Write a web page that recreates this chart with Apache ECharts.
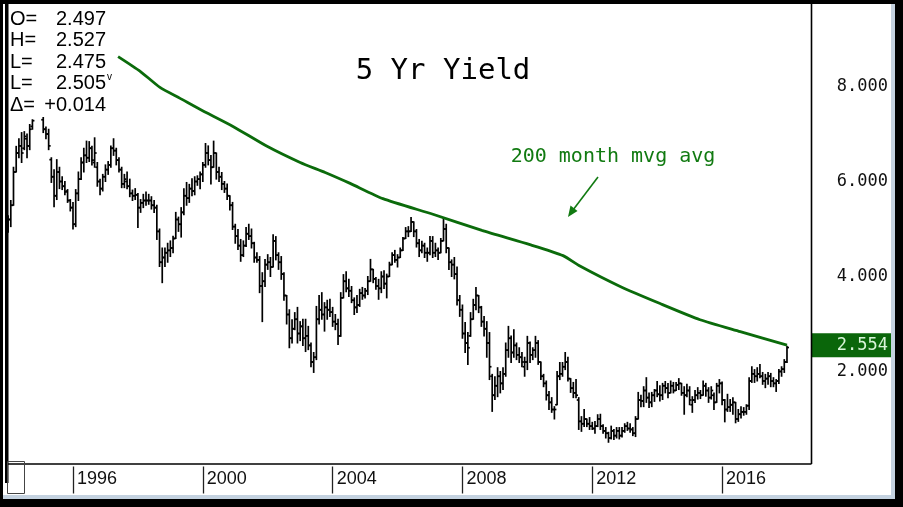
<!DOCTYPE html>
<html><head><meta charset="utf-8">
<script src="https://cdn.jsdelivr.net/npm/echarts@6/dist/echarts.min.js"></script>
<style>html,body{margin:0;padding:0;background:#fff}#c{width:903px;height:507px}</style>
</head><body><div id="c"></div>
<script>
// Monthly bars, Jan 1994 .. Jan 2018
const startYear = 1994;
const openV = [
5.05,5.20,5.50,6.20,6.60,6.75,6.70,6.90,6.75,7.16,7.45,7.70,
7.80,7.30,7.10,7.00,6.46,6.10,5.70,6.20,6.00,5.90,5.80,5.60,
5.45,5.10,5.75,6.05,6.40,6.55,6.50,6.70,6.40,6.30,6.00,5.85,
6.10,6.25,6.35,6.70,6.65,6.45,6.25,5.95,6.00,5.90,5.75,5.70,
5.72,5.45,5.55,5.60,5.60,5.60,5.50,5.45,4.95,4.30,4.40,4.50,
4.55,4.60,4.80,5.20,5.10,5.35,5.70,5.65,5.85,5.80,6.00,6.05,
6.15,6.35,6.60,6.45,6.30,6.60,6.20,6.10,5.95,5.85,5.70,5.50,
5.05,4.85,4.65,4.45,4.65,4.90,4.85,4.70,4.40,4.35,3.80,3.90,
4.25,4.30,4.20,4.75,4.45,4.30,4.05,3.60,3.20,2.70,2.90,3.10,
2.80,2.95,2.70,2.75,2.55,2.20,2.30,3.10,3.30,3.20,3.35,3.30,
3.25,3.05,3.00,2.75,3.55,3.90,3.75,3.70,3.50,3.35,3.40,3.65,
3.60,3.70,3.90,4.15,3.95,3.80,3.75,4.00,3.85,4.00,4.25,4.45,
4.35,4.40,4.55,4.80,4.95,4.95,5.15,4.95,4.70,4.55,4.65,4.50,
4.50,4.75,4.50,4.55,4.50,4.75,5.00,4.60,4.30,4.25,4.05,3.50,
3.30,2.80,2.60,2.75,3.10,3.40,3.60,3.35,3.05,2.90,2.60,1.90,
1.50,1.70,1.90,1.75,1.95,2.45,2.70,2.40,2.55,2.35,2.30,2.10,
2.20,2.60,2.35,2.45,2.60,2.20,1.90,1.75,1.50,1.35,1.20,1.30,
1.90,1.95,2.10,2.20,1.85,1.65,1.55,1.40,0.95,0.90,1.00,0.90,
0.85,0.80,0.85,1.00,0.85,0.75,0.70,0.60,0.75,0.65,0.75,0.65,
0.75,0.85,0.80,0.78,0.70,1.00,1.40,1.38,1.60,1.45,1.35,1.50,
1.60,1.52,1.50,1.70,1.65,1.55,1.70,1.60,1.72,1.75,1.55,1.50,
1.60,1.30,1.40,1.50,1.55,1.50,1.70,1.60,1.45,1.50,1.35,1.70,
1.75,1.40,1.20,1.25,1.30,1.35,1.00,1.10,1.15,1.15,1.28,1.80,
1.95,1.90,1.95,1.90,1.80,1.85,1.90,1.80,1.75,1.80,2.00,2.05,
2.20];
const highV = [
5.28,5.60,6.30,6.74,6.90,7.03,7.05,7.00,7.20,7.30,7.80,7.90,
7.90,7.35,7.15,7.10,6.50,6.25,6.46,6.30,6.10,6.00,5.83,5.62,
5.56,5.83,6.20,6.50,6.70,6.85,6.84,6.74,6.92,6.40,6.05,6.15,
6.35,6.42,6.75,6.90,6.70,6.50,6.30,6.15,6.20,6.05,5.82,5.85,
5.75,5.62,5.73,5.78,5.73,5.68,5.60,5.50,5.00,4.60,4.60,4.70,
4.75,4.85,5.35,5.25,5.45,5.85,5.98,5.94,6.06,6.10,6.12,6.20,
6.40,6.80,6.75,6.55,6.85,6.60,6.30,6.19,6.00,5.95,5.70,5.56,
5.10,4.99,4.78,4.75,5.03,5.10,5.00,4.72,4.50,4.42,4.08,4.36,
4.46,4.40,4.88,4.84,4.50,4.42,4.08,3.60,3.30,3.09,3.24,3.35,
3.05,3.10,3.10,2.95,2.60,2.40,3.37,3.60,3.66,3.45,3.50,3.52,
3.35,3.20,3.10,3.66,4.04,4.10,3.94,3.79,3.55,3.60,3.73,3.77,
3.75,4.00,4.36,4.15,3.98,3.94,4.10,4.12,4.05,4.30,4.50,4.55,
4.46,4.60,4.82,5.03,5.05,5.24,5.15,4.99,4.78,4.74,4.70,4.60,
4.84,4.84,4.70,4.60,4.80,5.24,5.10,4.60,4.35,4.40,4.20,3.60,
3.40,3.03,2.82,3.24,3.52,3.77,3.60,3.37,3.16,3.05,2.82,1.94,
1.89,2.08,2.00,2.08,2.60,2.95,2.75,2.88,2.60,2.50,2.40,2.30,
2.74,2.62,2.50,2.74,2.65,2.20,1.94,1.80,1.58,1.45,1.26,2.00,
2.19,2.19,2.40,2.30,1.85,1.77,1.83,1.45,1.05,1.20,1.00,1.03,
0.93,0.95,1.09,1.10,0.88,0.82,0.72,0.85,0.78,0.82,0.82,0.82,
0.90,0.93,0.90,0.82,1.05,1.56,1.50,1.68,1.87,1.55,1.56,1.62,
1.79,1.70,1.75,1.79,1.75,1.80,1.77,1.77,1.85,1.75,1.68,1.73,
1.68,1.47,1.60,1.66,1.60,1.80,1.75,1.66,1.68,1.55,1.75,1.83,
1.78,1.41,1.52,1.41,1.45,1.35,1.20,1.26,1.24,1.30,1.87,2.10,
2.04,2.08,2.15,1.98,1.94,1.98,1.96,1.87,1.83,2.04,2.10,2.25,
2.53];
const lowV = [
4.93,5.05,5.50,6.20,6.50,6.40,6.67,6.50,6.67,7.10,7.45,7.55,
7.45,7.03,6.90,6.67,5.98,5.47,5.62,5.85,5.83,5.72,5.56,5.38,
5.00,5.05,5.60,6.04,6.20,6.40,6.42,6.35,6.30,5.90,5.72,5.80,
6.00,6.15,6.30,6.55,6.35,6.20,5.87,5.87,5.85,5.68,5.60,5.62,
5.03,5.35,5.45,5.50,5.52,5.42,5.35,4.78,4.21,3.87,4.21,4.30,
4.42,4.50,4.80,4.95,4.83,5.30,5.50,5.56,5.70,5.72,5.92,5.85,
6.00,6.30,6.35,5.95,6.30,6.05,6.00,5.83,5.77,5.62,5.40,4.99,
4.70,4.57,4.32,4.42,4.63,4.78,4.60,4.30,4.30,3.66,3.05,3.79,
4.15,4.00,4.20,4.35,4.15,3.94,3.50,3.00,2.50,2.60,2.88,2.60,
2.65,2.55,2.42,2.46,2.10,1.98,2.25,3.00,3.10,2.85,3.10,3.16,
2.95,2.88,2.57,2.74,3.55,3.68,3.58,3.45,3.20,3.24,3.37,3.52,
3.55,3.62,3.90,3.87,3.73,3.52,3.66,3.75,3.55,4.00,4.25,4.30,
4.20,4.40,4.55,4.80,4.84,4.95,4.84,4.62,4.42,4.50,4.40,4.32,
4.46,4.40,4.42,4.36,4.50,4.75,4.50,4.15,4.00,3.95,3.40,3.16,
2.70,2.40,2.15,2.74,3.10,3.30,3.24,2.95,2.75,2.30,1.83,1.16,
1.41,1.47,1.55,1.62,1.90,2.30,2.19,2.30,2.25,2.19,2.10,1.90,
2.04,2.19,2.25,2.30,2.15,1.83,1.68,1.40,1.20,1.14,1.00,1.30,
1.83,1.90,2.04,1.80,1.56,1.45,1.45,0.78,0.74,0.84,0.84,0.78,
0.78,0.70,0.84,0.78,0.70,0.60,0.51,0.58,0.57,0.60,0.58,0.62,
0.72,0.76,0.72,0.65,0.63,1.00,1.26,1.26,1.35,1.24,1.26,1.37,
1.47,1.38,1.41,1.55,1.45,1.55,1.55,1.60,1.62,1.50,1.10,1.47,
1.30,1.14,1.35,1.42,1.43,1.50,1.48,1.35,1.42,1.20,1.35,1.55,
1.30,0.94,1.16,1.16,1.10,0.92,0.95,1.02,1.08,1.10,1.20,1.77,
1.77,1.80,1.87,1.73,1.66,1.73,1.68,1.68,1.58,1.75,1.90,1.98,
2.19];
const closeV = [
5.20,5.50,6.20,6.60,6.75,6.60,6.95,6.75,7.10,7.28,7.70,7.80,
7.55,7.10,7.00,6.75,6.10,5.70,6.20,6.00,5.90,5.78,5.60,5.45,
5.10,5.75,6.05,6.40,6.55,6.50,6.70,6.45,6.60,6.00,5.85,6.10,
6.25,6.35,6.70,6.65,6.45,6.25,5.95,6.05,5.90,5.75,5.70,5.72,
5.45,5.55,5.60,5.60,5.60,5.50,5.45,4.95,4.30,4.40,4.50,4.55,
4.60,4.80,5.20,5.10,5.35,5.70,5.65,5.85,5.80,6.00,6.05,6.15,
6.35,6.60,6.45,6.30,6.60,6.20,6.10,5.95,5.85,5.70,5.50,5.05,
4.85,4.65,4.45,4.65,4.90,4.85,4.70,4.40,4.35,3.80,3.90,4.25,
4.30,4.20,4.75,4.45,4.30,4.05,3.60,3.20,2.70,2.90,3.10,2.80,
2.95,2.70,2.75,2.55,2.20,2.30,3.10,3.30,3.20,3.35,3.30,3.25,
3.05,3.00,2.75,3.55,3.90,3.75,3.70,3.50,3.35,3.40,3.65,3.60,
3.70,3.90,4.15,3.95,3.80,3.75,4.00,3.85,4.00,4.25,4.45,4.35,
4.40,4.55,4.80,4.95,4.95,5.15,4.95,4.70,4.55,4.65,4.50,4.50,
4.75,4.50,4.55,4.50,4.75,5.00,4.60,4.30,4.25,4.05,3.50,3.30,
2.80,2.60,2.50,3.10,3.40,3.60,3.35,3.05,2.90,2.60,2.10,1.50,
1.70,1.90,1.75,1.95,2.45,2.70,2.40,2.55,2.35,2.30,2.20,2.20,
2.60,2.35,2.45,2.60,2.20,1.90,1.75,1.50,1.35,1.20,1.20,1.90,
1.95,2.10,2.20,1.85,1.65,1.55,1.50,0.95,0.90,1.00,0.90,0.85,
0.80,0.85,1.00,0.85,0.75,0.70,0.60,0.75,0.65,0.75,0.65,0.75,
0.85,0.80,0.78,0.70,1.00,1.40,1.38,1.60,1.45,1.35,1.50,1.60,
1.52,1.50,1.70,1.65,1.55,1.70,1.60,1.72,1.75,1.55,1.50,1.60,
1.40,1.40,1.50,1.55,1.50,1.70,1.60,1.45,1.60,1.35,1.70,1.75,
1.40,1.20,1.25,1.30,1.35,1.00,1.10,1.15,1.15,1.28,1.80,1.95,
1.90,1.95,1.90,1.80,1.85,1.90,1.80,1.75,1.80,2.00,2.05,2.20,
2.505];

// 200 month moving average
const maYears  = [1997.39,1998.07,1998.68,1999.30,1999.91,2000.93,2001.98,2003.00,2003.77,2004.54,2005.55,2007.09,2008.60,2010.08,2011.10,2011.62,2012.86,2014.09,2015.32,2016.56,2018.00];
const maValues = [8.63,8.32,7.98,7.75,7.52,7.16,6.74,6.40,6.19,5.96,5.64,5.31,4.97,4.67,4.44,4.22,3.79,3.43,3.09,2.84,2.554];
const lastMA = 2.554;

const xTickYears = [1996,2000,2004,2008,2012,2016];
const yTickLabels = [2,4,6,8];
const titleText = '5 Yr Yield';
const noteText = '200 month mvg avg';
const readoutLabels = ['O=','H=','L=','L=','\u0394='];
const readoutValues = ['2.497','2.527','2.475','2.505','+0.014'];

const bars = openV.map((o,i)=>[startYear + i/12, o, highV[i], lowV[i], closeV[i]]);
const maData = maYears.map((y,i)=>[y, maValues[i]]);

const chart = echarts.init(document.getElementById('c'), null, {renderer:'canvas', width:903, height:507});

const GREEN = '#0b6b0b';
const MONO = '"DejaVu Sans Mono", monospace';

function buildGraphics(extra){
  const g = [
    // outer frame
    {type:'rect', shape:{x:0,y:0,width:3,height:507}, style:{fill:'#000'}, z:200},
    {type:'rect', shape:{x:0,y:0,width:903,height:4}, style:{fill:'#000'}, z:200},
    {type:'rect', shape:{x:895,y:0,width:8,height:507}, style:{fill:'#000'}, z:200},
    {type:'rect', shape:{x:0,y:499,width:903,height:8}, style:{fill:'#000'}, z:200},
    {type:'rect', shape:{x:891,y:4,width:4,height:495}, style:{fill:'#c4d2e0'}, z:200},
    {type:'rect', shape:{x:3,y:495,width:892,height:4}, style:{fill:'#c4d2e0'}, z:200},
    // plot frame
    {type:'rect', shape:{x:5,y:4,width:3.5,height:479}, style:{fill:'#000'}, z:200},
    {type:'line', shape:{x1:5,y1:464,x2:811.5,y2:464}, style:{stroke:'#000',lineWidth:1.6}, z:200},
    {type:'line', shape:{x1:811.5,y1:4,x2:811.5,y2:464}, style:{stroke:'#000',lineWidth:1.6}, z:200},
    // scroll thumb
    {type:'rect', shape:{x:7.5,y:461.5,width:17,height:32}, style:{fill:null,stroke:'#444',lineWidth:1}, z:201},
    // readout box
    {type:'rect', shape:{x:8.5,y:4,width:106,height:113}, style:{fill:'#fff'}, z:150},
    // title
    {type:'text', x:443, y:71, style:{text:titleText, font:'29px '+MONO, fill:'#000', align:'center', verticalAlign:'middle'}, z:160},
    // annotation
    {type:'text', x:613, y:157, style:{text:noteText, font:'20px '+MONO, fill:'#117a11', align:'center', verticalAlign:'middle'}, z:160},
    {type:'line', shape:{x1:598,y1:177,x2:573,y2:210}, style:{stroke:'#117a11',lineWidth:1.6}, z:160},
    {type:'polygon', shape:{points:[[568,217],[577.5,211],[570.5,205.5]]}, style:{fill:'#117a11'}, z:160}
  ];
  const ys = [19,40.5,62,83.5,105];
  readoutLabels.forEach((t,i)=>{
    g.push({type:'text', x:10, y:ys[i], style:{text:t, font:'20px "Liberation Sans", Arial, sans-serif', fill:'#000', align:'left', verticalAlign:'middle'}, z:160});
    g.push({type:'text', x:106, y:ys[i], style:{text:readoutValues[i], font:'20px "Liberation Sans", Arial, sans-serif', fill:'#000', align:'right', verticalAlign:'middle'}, z:160});
  });
  g.push({type:'text', x:107, y:77, style:{text:'v', font:'10px "Liberation Sans", Arial, sans-serif', fill:'#000', align:'left', verticalAlign:'middle'}, z:160});
  return g.concat(extra || []);
}

const option = {
  animation:false,
  backgroundColor:'#fff',
  grid:{left:5, right:92, top:1, bottom:40.5, containLabel:false},
  xAxis:{
    type:'value', min:1993.905, max:2018.74,
    axisLine:{show:false}, splitLine:{show:false},
    axisTick:{show:true, customValues:xTickYears, length:27, lineStyle:{color:'#222', width:1.3}},
    axisLabel:{show:true, customValues:xTickYears, formatter:v=>String(Math.round(v)), align:'left', margin:4, padding:[0,0,0,4],
      fontFamily:'"Liberation Sans", Arial, sans-serif', fontSize:18, color:'#111'}
  },
  yAxis:{
    type:'value', position:'right', min:0, max:9.8, interval:2,
    axisLine:{show:false}, axisTick:{show:false}, splitLine:{show:false},
    axisLabel:{formatter:v=>yTickLabels.includes(v)? v.toFixed(3) : '', align:'right', margin:77,
      fontFamily:MONO, fontSize:17, color:'#111'}
  },
  series:[
    {
      type:'custom', name:'5 Yr Yield', data:bars, encode:{x:0, y:[1,2,3,4]}, z:3,
      renderItem:(params, api)=>{
        const t = api.value(0);
        const o = api.coord([t, api.value(1)]);
        const h = api.coord([t, api.value(2)]);
        const l = api.coord([t, api.value(3)]);
        const c = api.coord([t, api.value(4)]);
        const st = {stroke:'#000', lineWidth:1.7};
        return {type:'group', children:[
          {type:'line', shape:{x1:h[0],y1:h[1]-0.5,x2:l[0],y2:l[1]+0.5}, style:st},
          {type:'line', shape:{x1:o[0]-2,y1:o[1],x2:o[0],y2:o[1]}, style:st},
          {type:'line', shape:{x1:c[0],y1:c[1],x2:c[0]+2,y2:c[1]}, style:st}
        ]};
      }
    },
    {
      type:'line', name:'200 month mvg avg', data:maData, showSymbol:false, smooth:0.2, z:4,
      lineStyle:{color:GREEN, width:2.8}
    }
  ],
  graphic:buildGraphics()
};
chart.setOption(option);

const py = chart.convertToPixel({yAxisIndex:0}, lastMA);
option.graphic = buildGraphics([
  {type:'rect', shape:{x:812,y:py-12,width:79,height:24}, style:{fill:'#0a660a'}, z:160},
  {type:'text', x:888, y:py, style:{text:lastMA.toFixed(3), font:'17px '+MONO, fill:'#d8f4d8', align:'right', verticalAlign:'middle'}, z:161}
]);
chart.setOption(option, true);
</script>
</body></html>
